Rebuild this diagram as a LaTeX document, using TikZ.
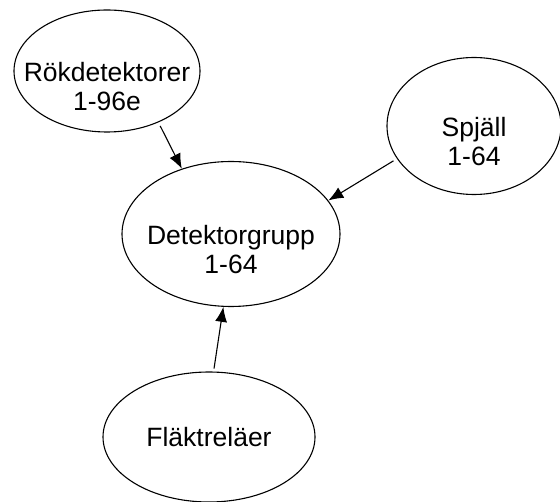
\documentclass[tikz,border=0pt]{standalone}
\usepackage{fontspec}
\setmainfont{Liberation Sans}
\usetikzlibrary{shapes.geometric,arrows.meta}
\tikzset{
  blob/.style={draw, ellipse, inner xsep=-40pt, inner ysep=-30pt, line width=1.1pt,
    align=center, font=\fontsize{26.5}{29.5}\selectfont},
  pil/.style={-{Latex[length=15pt,width=12pt]}, line width=1.1pt}
}
\begin{document}
\begin{tikzpicture}[x=1pt,y=-1pt]
	\useasboundingbox (0,0) rectangle (560,502);
	\node[blob, minimum width=186pt, minimum height=122pt] (rok) at (107,71) {\strut\\Rökdetektorer\\1-96e};
	\node[blob, minimum width=174pt, minimum height=137pt] (spjall) at (474,126) {\strut\\Spjäll\\1-64};
	\node[blob, minimum width=218pt, minimum height=145pt] (grupp) at (231,234) {\strut\\Detektorgrupp\\1-64};
	\node[blob, minimum width=212pt, minimum height=130pt] (flakt) at (209,437) {Fläktreläer};
%	pilar in mot gruppen
	\draw[pil, shorten <=4pt] (rok.-45) -- (grupp.127);
	\draw[pil, shorten <=4pt] (spjall.203) -- (grupp.19);
	\draw[pil, shorten <=3pt] (flakt.86) -- (grupp.264);
\end{tikzpicture}
\end{document}
